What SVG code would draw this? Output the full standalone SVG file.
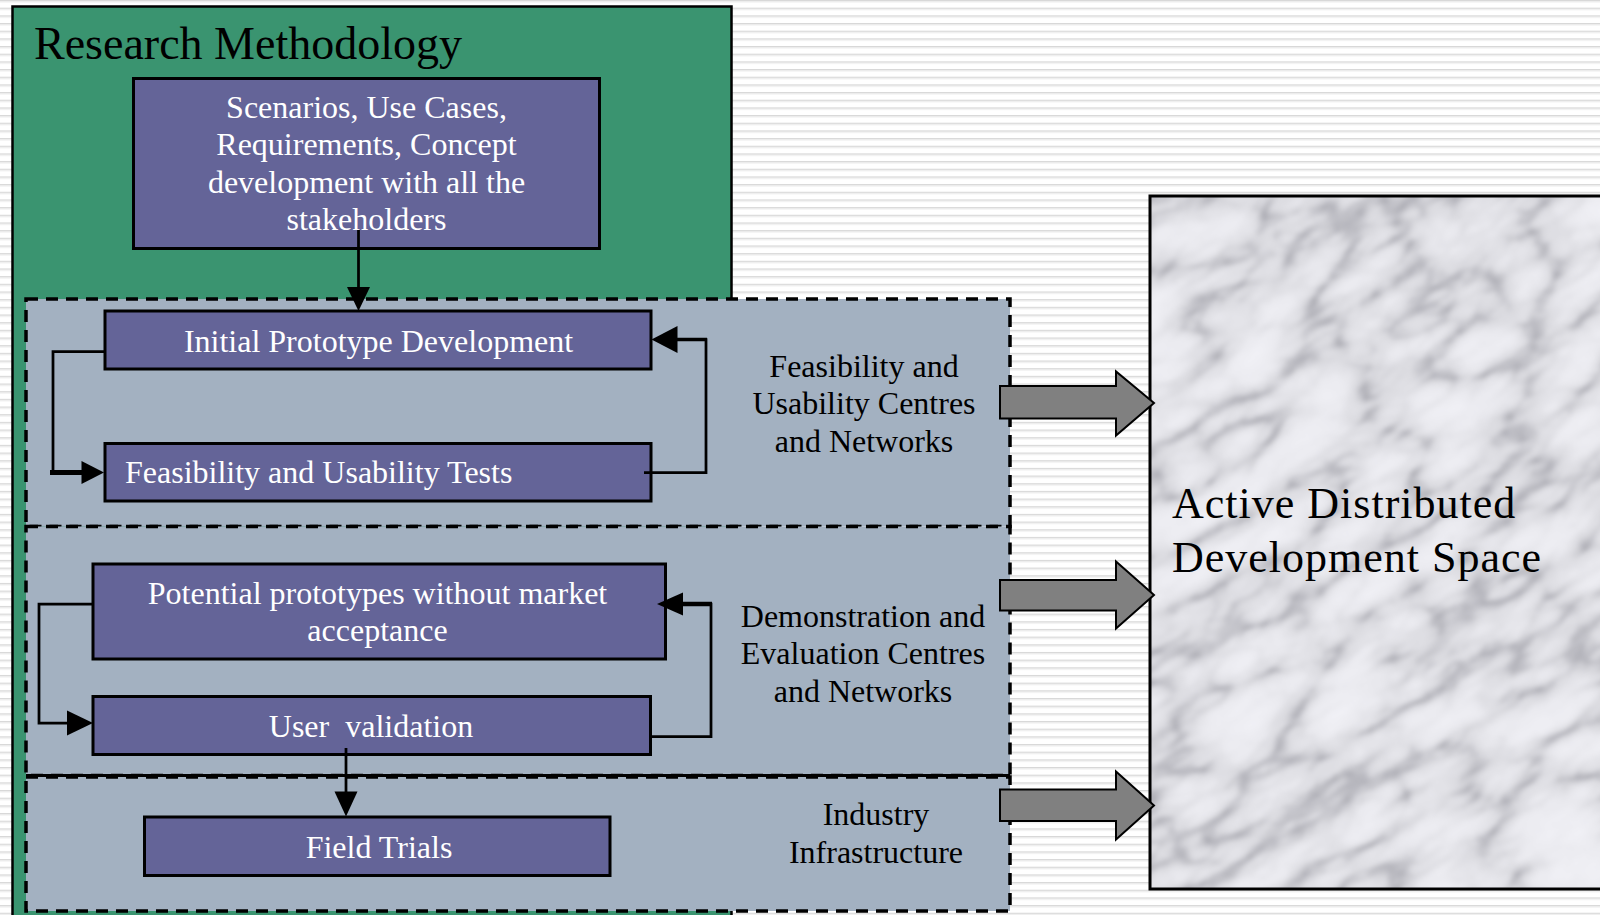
<svg xmlns="http://www.w3.org/2000/svg" width="1600" height="915" viewBox="0 0 1600 915">
  <defs>
    <style>
      .lbl { font-family: "Liberation Serif", "Times New Roman", serif; font-size: 32px; fill: #000; text-anchor: middle; }
      .box { fill: #646498; stroke: #000; stroke-width: 3; }
      .boxtxt { font-family: "Liberation Serif", "Times New Roman", serif; font-size: 32px; fill: #fff; text-anchor: middle; }
      .boxtxt.left { text-anchor: start; }
      .zone { fill: #a3b1c1; stroke: #000; stroke-width: 3.5; stroke-dasharray: 12 8; }
      .wire { fill: none; stroke: #000; stroke-width: 2.75; stroke-linejoin: miter; }
      .head { fill: #000; stroke: none; }
      .block { fill: #808080; stroke: #000; stroke-width: 2; stroke-linejoin: miter; }
    </style>
    <pattern id="stripes" width="16" height="7.67" patternUnits="userSpaceOnUse">
      <rect width="16" height="7.67" fill="#ffffff"/>
      <rect y="0" width="16" height="1.4" fill="#d8d8d8"/>
      <rect y="1.4" width="16" height="1" fill="#ececec"/>
    </pattern>
    <filter id="marble" x="0" y="0" width="100%" height="100%" color-interpolation-filters="sRGB">
      <feTurbulence type="turbulence" baseFrequency="0.009 0.02" numOctaves="4" seed="11"/>
      <feColorMatrix type="matrix" values="1 0 0 0 0  1 0 0 0 0  1 0 0 0 0  0 0 0 0 1"/>
      <feComponentTransfer>
        <feFuncR type="table" tableValues="0.66 0.86 0.92 0.94 0.95"/>
        <feFuncG type="table" tableValues="0.66 0.86 0.92 0.94 0.95"/>
        <feFuncB type="table" tableValues="0.69 0.88 0.94 0.96 0.97"/>
      </feComponentTransfer>
      <feGaussianBlur stdDeviation="2.2"/>
    </filter>
    <clipPath id="marbleClip">
      <rect x="1150" y="196" width="460" height="693"/>
    </clipPath>
  </defs>

  <!-- page background -->
  <rect width="1600" height="915" fill="url(#stripes)"/>

  <!-- research methodology panel -->
  <g id="research-methodology">
    <rect x="12.5" y="6.5" width="719" height="930" fill="#3a9470" stroke="#000" stroke-width="2.5"/>
    <text x="34" y="59" font-family="Liberation Serif, Times New Roman, serif" font-size="46" fill="#000">Research Methodology</text>
  </g>

  <!-- centre zones -->
  <g id="zone-feasibility">
    <rect class="zone" x="26" y="299" width="984" height="227.5"/>
    <text class="lbl" x="864" y="376.5">Feasibility and</text>
    <text class="lbl" x="864" y="414">Usability Centres</text>
    <text class="lbl" x="864" y="451.5">and Networks</text>
  </g>
  <g id="zone-demonstration">
    <rect class="zone" x="26" y="526.5" width="984" height="249"/>
    <text class="lbl" x="863" y="627">Demonstration and</text>
    <text class="lbl" x="863" y="664">Evaluation Centres</text>
    <text class="lbl" x="863" y="702">and Networks</text>
  </g>
  <g id="zone-industry">
    <rect class="zone" x="26" y="777" width="984" height="134"/>
    <line x1="26" y1="775.5" x2="1010" y2="775.5" stroke="#000" stroke-width="3"/>
    <text class="lbl" x="876" y="825">Industry</text>
    <text class="lbl" x="876" y="863">Infrastructure</text>
  </g>

  <!-- process steps -->
  <g id="scenarios">
    <rect class="box" x="133.5" y="78.5" width="466" height="170"/>
    <text class="boxtxt" x="366.5" y="117.5">Scenarios, Use Cases,</text>
    <text class="boxtxt" x="366.5" y="155">Requirements, Concept</text>
    <text class="boxtxt" x="366.5" y="192.5">development with all the</text>
    <text class="boxtxt" x="366.5" y="230">stakeholders</text>
  </g>
  <g id="initial-prototype">
    <rect class="box" x="105" y="311" width="546" height="58"/>
    <text class="boxtxt" x="378.5" y="351.5">Initial Prototype Development</text>
  </g>
  <g id="feasibility-tests">
    <rect class="box" x="105" y="443.5" width="546" height="57.5"/>
    <text class="boxtxt left" x="125" y="483">Feasibility and Usability Tests</text>
  </g>
  <g id="potential-prototypes">
    <rect class="box" x="93" y="564" width="572.5" height="95"/>
    <text class="boxtxt" x="377.5" y="604">Potential prototypes without market</text>
    <text class="boxtxt" x="377.5" y="641">acceptance</text>
  </g>
  <g id="user-validation">
    <rect class="box" x="93" y="696.5" width="557.5" height="58"/>
    <text class="boxtxt" x="371" y="736.5" style="white-space:pre">User  validation</text>
  </g>
  <g id="field-trials">
    <rect class="box" x="144.5" y="817" width="465.5" height="58.5"/>
    <text class="boxtxt" x="379" y="858">Field Trials</text>
  </g>

  <!-- development space -->
  <g id="development-space">
    <g clip-path="url(#marbleClip)">
      <rect x="1150" y="196" width="460" height="693" fill="#e6e6ea"/>
      <g transform="rotate(-30 1380 542)">
        <rect x="900" y="100" width="960" height="900" filter="url(#marble)"/>
      </g>
    </g>
    <rect x="1150" y="196" width="470" height="693" fill="none" stroke="#000" stroke-width="3"/>
    <text x="1172" y="518" font-family="Liberation Serif, Times New Roman, serif" font-size="44" letter-spacing="1" fill="#000">Active Distributed</text>
    <text x="1172" y="572" font-family="Liberation Serif, Times New Roman, serif" font-size="44" letter-spacing="1" fill="#000">Development Space</text>
  </g>

  <!-- connectors -->
  <g id="connectors">
    <!-- scenarios to initial prototype -->
    <line class="wire" x1="358.5" y1="230" x2="358.5" y2="290"/>
    <polygon class="head" points="358.5,311 347,287 370,287"/>

    <!-- initial prototype to feasibility tests -->
    <polyline class="wire" points="105,351.5 53,351.5 53,472.5 84,472.5"/>
    <line x1="50" y1="472.5" x2="84" y2="472.5" stroke="#000" stroke-width="5"/>
    <polygon class="head" points="104,472.5 81.5,461 81.5,484"/>

    <!-- feasibility tests back to initial prototype -->
    <polyline class="wire" points="644,472.5 706,472.5 706,339.5 677,339.5"/>
    <line x1="676" y1="339.5" x2="707" y2="339.5" stroke="#000" stroke-width="3.5"/>
    <polygon class="head" points="651.5,339.5 677.5,326 677.5,353"/>

    <!-- potential prototypes to user validation -->
    <polyline class="wire" points="93,604 39,604 39,723 68,723"/>
    <polygon class="head" points="93,723 67,710.5 67,735.5"/>

    <!-- user validation back to potential prototypes -->
    <polyline class="wire" points="650.5,736.5 711,736.5 711,604 683,604"/>
    <line x1="682" y1="604" x2="712" y2="604" stroke="#000" stroke-width="4.5"/>
    <polygon class="head" points="657,604 683,592.5 683,615.5"/>

    <!-- user validation to field trials -->
    <line class="wire" x1="346" y1="748" x2="346" y2="793"/>
    <polygon class="head" points="346,816.5 334.5,791.5 357.5,791.5"/>

    <!-- zones feeding the development space -->
    <polygon class="block" points="1000,386 1116,386 1116,371.5 1154,403 1116,435.5 1116,418.5 1000,418.5"/>
    <polygon class="block" points="1000,580 1116,580 1116,561.5 1154,595 1116,628.5 1116,610.5 1000,610.5"/>
    <polygon class="block" points="1000,789.5 1116,789.5 1116,771.5 1154,805.5 1116,839.5 1116,821 1000,821"/>
  </g>
</svg>
